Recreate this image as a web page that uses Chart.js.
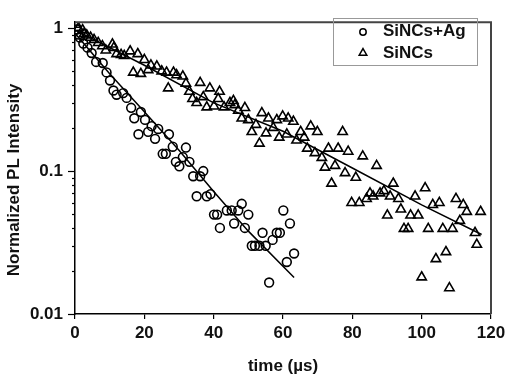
<!DOCTYPE html>
<html>
<head>
<meta charset="utf-8">
<script src="https://cdn.jsdelivr.net/npm/chart.js@4.4.1/dist/chart.umd.min.js"></script>
<style>
  html, body { margin: 0; padding: 0; background: #fff; }
</style>
</head>
<body>
<canvas id="decay" width="510" height="383"></canvas>
<script>
// SiNCs+Ag (circles)
const agTime = [0.5, 0.9, 1.4, 2.4, 3.6, 4.8, 6.1, 8.0, 9.1, 10.1, 11.1, 12.0, 13.9, 14.9, 16.2, 17.1,
  18.3, 19.0, 20.2, 21.1, 22.1, 23.1, 24.0, 25.3, 26.2, 27.1, 28.2, 29.1, 30.1, 31.1, 32.0, 33.0,
  34.1, 35.1, 36.1, 37.0, 38.0, 39.1, 40.1, 41.0, 41.8, 43.8, 45.2, 45.9, 47.1, 48.1, 49.0, 50.0,
  51.0, 51.9, 53.2, 54.1, 55.0, 56.0, 57.0, 58.2, 59.1, 60.1, 61.1, 62.0, 63.2];
const agIntensity = [0.98, 0.90, 0.86, 0.78, 0.73, 0.67, 0.58, 0.57, 0.49, 0.43, 0.366, 0.342, 0.351, 0.325, 0.277, 0.234,
  0.181, 0.259, 0.228, 0.188, 0.206, 0.168, 0.197, 0.132, 0.132, 0.181, 0.148, 0.116, 0.108, 0.125, 0.146, 0.116,
  0.092, 0.0666, 0.092, 0.100, 0.0666, 0.069, 0.0496, 0.0496, 0.040, 0.053, 0.053, 0.043, 0.053, 0.059, 0.040, 0.0496,
  0.030, 0.030, 0.030, 0.037, 0.030, 0.0166, 0.033, 0.037, 0.037, 0.053, 0.0231, 0.043, 0.0265];

// SiNCs (triangles)
const ncTime = [0.3, 1.0, 2.2, 2.6, 3.4, 4.5, 5.5, 6.7, 7.9, 8.9, 10.8, 11.2, 12.0, 13.3, 14.2, 15.9,
  16.8, 18.1, 19.0, 20.0, 21.1, 21.9, 23.6, 25.0, 26.4, 26.9, 28.4, 29.3, 31.1, 32.0, 33.0, 33.9,
  35.1, 36.1, 37.0, 38.0, 38.9, 40.1, 41.3, 41.7, 43.0, 44.7, 45.7, 46.1, 47.1, 48.1, 49.0, 50.0,
  51.0, 52.2, 53.2, 53.9, 55.1, 55.8, 57.2, 58.2, 58.9, 59.9, 61.1, 61.5, 63.0, 63.9, 65.1, 66.1,
  67.0, 68.0, 69.2, 69.9, 71.2, 72.1, 73.1, 74.0, 75.0, 75.9, 77.2, 77.9, 78.8, 79.8, 81.0, 82.0,
  83.0, 84.1, 85.1, 86.0, 87.0, 88.0, 89.1, 90.1, 90.9, 91.8, 93.3, 94.0, 94.9, 96.1, 96.8, 98.1,
  99.0, 100.0, 101.0, 101.9, 103.2, 104.1, 105.1, 106.1, 107.0, 108.0, 108.9, 109.9, 111.0, 112.0, 113.0, 115.4,
  115.9, 117.0];
const ncIntensity = [1.06, 1.00, 0.97, 0.91, 0.89, 0.86, 0.83, 0.79, 0.75, 0.70, 0.77, 0.73, 0.66, 0.65, 0.64, 0.69,
  0.49, 0.66, 0.48, 0.60, 0.51, 0.55, 0.54, 0.50, 0.49, 0.38, 0.49, 0.47, 0.46, 0.41, 0.36, 0.32,
  0.30, 0.415, 0.33, 0.28, 0.38, 0.284, 0.32, 0.36, 0.28, 0.30, 0.31, 0.29, 0.265, 0.234, 0.277, 0.228,
  0.188, 0.211, 0.156, 0.255, 0.184, 0.234, 0.201, 0.228, 0.172, 0.242, 0.181, 0.234, 0.222, 0.164, 0.188, 0.172,
  0.144, 0.206, 0.134, 0.188, 0.124, 0.106, 0.144, 0.082, 0.109, 0.144, 0.188, 0.097, 0.137, 0.060, 0.090, 0.060,
  0.127, 0.064, 0.070, 0.0666, 0.109, 0.070, 0.0726, 0.049, 0.0666, 0.082, 0.064, 0.054, 0.0395, 0.0395, 0.049, 0.0666,
  0.049, 0.0181, 0.076, 0.0395, 0.058, 0.0243, 0.060, 0.0395, 0.0272, 0.0152, 0.0395, 0.064, 0.045, 0.058, 0.052, 0.037,
  0.0306, 0.052];

// fitted decay curves
const agFitTime = [0, 10, 20, 30, 40, 50, 63.2];
const agFitIntensity = [0.92, 0.48, 0.26, 0.14, 0.072, 0.038, 0.018];
const ncFitTime = [0, 20, 40, 60, 80, 100, 117.3];
const ncFitIntensity = [0.97, 0.55, 0.30, 0.19, 0.105, 0.058, 0.036];

const yTickValues = [0.01, 0.02, 0.03, 0.04, 0.05, 0.06, 0.07, 0.08, 0.09,
  0.1, 0.2, 0.3, 0.4, 0.5, 0.6, 0.7, 0.8, 0.9, 1];
const yMajorTicks = [0.01, 0.1, 1];

const toPoints = (xs, ys) => xs.map((x, i) => ({ x: x, y: ys[i] }));
const font = { family: "'Liberation Sans', Arial, sans-serif", size: 17, weight: 'bold' };

// top and right frame lines
const frame = {
  id: 'frame',
  afterDraw(chart) {
    const { ctx, chartArea: a } = chart;
    ctx.save();
    ctx.strokeStyle = '#444';
    ctx.lineWidth = 2;
    ctx.beginPath();
    ctx.moveTo(a.left, a.top);
    ctx.lineTo(a.right, a.top);
    ctx.lineTo(a.right, a.bottom);
    ctx.stroke();
    ctx.restore();
  }
};

// long major / short minor ticks on the log axis
const yTickMarks = {
  id: 'yTickMarks',
  afterDraw(chart) {
    const { ctx, chartArea: a } = chart;
    const y = chart.scales.y;
    ctx.save();
    ctx.strokeStyle = '#000';
    ctx.lineWidth = 1.2;
    yTickValues.forEach(v => {
      const py = Math.round(y.getPixelForValue(v)) + 0.5;
      const len = yMajorTicks.includes(v) ? 7 : 3;
      ctx.beginPath();
      ctx.moveTo(a.left - len, py);
      ctx.lineTo(a.left, py);
      ctx.stroke();
    });
    ctx.restore();
  }
};

// boxed legend inside the plot
const legendBox = {
  id: 'legendBox',
  afterDraw(chart) {
    const ctx = chart.ctx;
    ctx.save();
    ctx.strokeStyle = '#999';
    ctx.lineWidth = 1;
    ctx.strokeRect(333.5, 18.5, 144, 47);
    ctx.strokeStyle = '#000';
    ctx.lineWidth = 1.5;
    ctx.beginPath();
    ctx.arc(363, 32, 3.2, 0, Math.PI * 2);
    ctx.stroke();
    const r = 4.4;
    ctx.beginPath();
    for (let k = 0; k < 3; k++) {
      const ang = k * 2 * Math.PI / 3;
      const px = 363 + Math.sin(ang) * r, py = 53 - Math.cos(ang) * r;
      if (k === 0) ctx.moveTo(px, py); else ctx.lineTo(px, py);
    }
    ctx.closePath();
    ctx.stroke();
    ctx.fillStyle = '#111';
    ctx.font = 'bold 17px "Liberation Sans", Arial, sans-serif';
    ctx.textBaseline = 'middle';
    ctx.textAlign = 'left';
    ctx.fillText(chart.data.datasets[0].label, 383, 31);
    ctx.fillText(chart.data.datasets[1].label, 383, 53);
    ctx.restore();
  }
};

new Chart(document.getElementById('decay'), {
  type: 'scatter',
  data: {
    datasets: [
      {
        label: 'SiNCs+Ag',
        data: toPoints(agTime, agIntensity),
        pointStyle: 'circle',
        pointRadius: 4.4,
        borderColor: '#000',
        backgroundColor: 'rgba(0,0,0,0)',
        borderWidth: 1.6
      },
      {
        label: 'SiNCs',
        data: toPoints(ncTime, ncIntensity),
        pointStyle: 'triangle',
        pointRadius: 5.4,
        borderColor: '#000',
        backgroundColor: 'rgba(0,0,0,0)',
        borderWidth: 1.6
      },
      {
        label: 'fit Ag',
        data: toPoints(agFitTime, agFitIntensity),
        showLine: true,
        pointRadius: 0,
        borderColor: '#000',
        borderWidth: 1.5
      },
      {
        label: 'fit',
        data: toPoints(ncFitTime, ncFitIntensity),
        showLine: true,
        pointRadius: 0,
        borderColor: '#000',
        borderWidth: 1.5
      }
    ]
  },
  options: {
    responsive: false,
    animation: false,
    layout: { padding: { left: 0, top: 7, right: 19, bottom: 0 } },
    plugins: { legend: { display: false }, tooltip: { enabled: false } },
    scales: {
      x: {
        type: 'linear',
        min: 0,
        max: 120,
        afterFit: s => { s.height = 69; },
        border: { color: '#000', width: 1.5 },
        grid: { drawOnChartArea: false, tickLength: 5, color: '#000', lineWidth: 1.2 },
        ticks: { stepSize: 20, color: '#111', font: font, padding: 4, maxRotation: 0 },
        title: { display: true, text: 'time (\u00b5s)', color: '#111', font: font, padding: { top: 0, bottom: 6 } }
      },
      y: {
        type: 'logarithmic',
        min: 0.01,
        max: 1.1,
        afterFit: s => { s.width = 75; },
        afterBuildTicks: s => { s.ticks = yTickValues.map(v => ({ value: v, major: yMajorTicks.includes(v) })); },
        border: { color: '#000', width: 1.5 },
        grid: { display: false, drawTicks: false },
        ticks: {
          color: '#111',
          font: font,
          padding: 12,
          autoSkip: false,
          callback: v => yMajorTicks.includes(v) ? String(v) : ''
        },
        title: {
          display: true,
          text: 'Normalized PL Intensity\u00a0\u00a0\u00a0\u00a0\u00a0',
          color: '#111',
          font: font,
          padding: { top: 4, bottom: 0 }
        }
      }
    }
  },
  plugins: [frame, yTickMarks, legendBox]
});
</script>
</body>
</html>
